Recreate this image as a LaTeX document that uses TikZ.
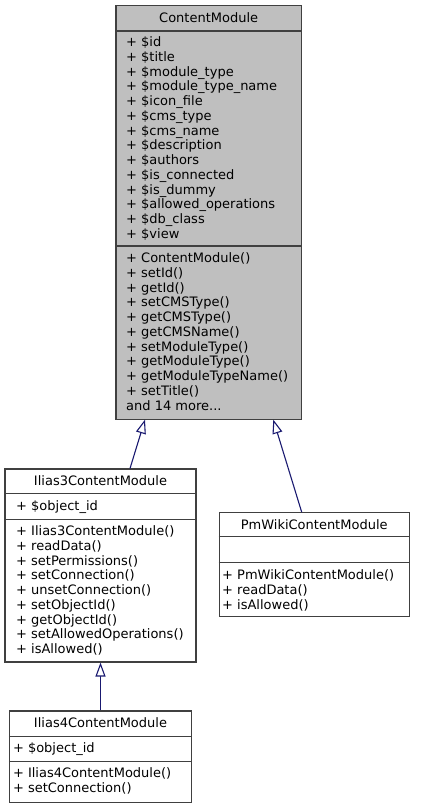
\documentclass[tikz,border=0pt]{standalone}
\usepackage{fontspec}
\setmainfont{DejaVu Sans}
\usetikzlibrary{arrows.meta}
\definecolor{edgeblue}{HTML}{191970}
\definecolor{boxline}{HTML}{404040}
\definecolor{boxgray}{HTML}{BFBFBF}
\tikzset{
  cls/.style={draw=boxline, line width=1.1pt, rectangle, inner sep=0pt},
  mem/.style={anchor=base west, inner sep=0pt, font=\fontsize{13}{14.75}\selectfont},
  ttl/.style={anchor=base, inner sep=0pt, font=\fontsize{13}{14.75}\selectfont},
  sep/.style={draw=boxline, line width=1.1pt},
  inh/.style={draw=edgeblue, line width=1.1pt, -{Triangle[open, length=14pt, width=10pt, fill=white]}}
}
\newcommand\memberlines[4]{%
  \foreach \t [count=\i from 0] in {#4} {\node[mem] (#1-\i) at (#2, #3+14.75*\i) {\t};}%
}
\begin{document}
\begin{tikzpicture}[x=1pt,y=-1pt]
\useasboundingbox (0,0) rectangle (421,808);
% ContentModule
\node[cls, fill=boxgray, minimum width=185.5, minimum height=413.5] (cm) at (208.7,212.3) {};
\draw[sep] (cm.west |- 0,31) -- (cm.east |- 0,31);
\draw[sep] (cm.west |- 0,246) -- (cm.east |- 0,246);
\node[ttl] (cm-title) at (208.7,23) {ContentModule};
\memberlines{cma}{126}{46.5}{+ \$id,+ \$title,+ \$module\_type,+ \$module\_type\_name,+ \$icon\_file,+ \$cms\_type,+ \$cms\_name,+ \$description,+ \$authors,+ \$is\_connected,+ \$is\_dummy,+ \$allowed\_operations,+ \$db\_class,+ \$view}
\memberlines{cmm}{126}{262.5}{+ ContentModule(),+ setId(),+ getId(),+ setCMSType(),+ getCMSType(),+ getCMSName(),+ setModuleType(),+ getModuleType(),+ getModuleTypeName(),+ setTitle(),{and 14 more.{}.{}.}}
% Ilias3ContentModule
\node[cls, fill=white, minimum width=191, minimum height=193] (i3) at (100.5,565.5) {};
\draw[sep] (i3.west |- 0,493.7) -- (i3.east |- 0,493.7);
\draw[sep] (i3.west |- 0,519.3) -- (i3.east |- 0,519.3);
\node[ttl] (i3-title) at (100.5,485.5) {Ilias3ContentModule};
\memberlines{i3a}{16}{510}{+ \$object\_id}
\memberlines{i3m}{16}{535.5}{+ Ilias3ContentModule(),+ readData(),+ setPermissions(),+ setConnection(),+ unsetConnection(),+ setObjectId(),+ getObjectId(),+ setAllowedOperations(),+ isAllowed()}
% PmWikiContentModule
\node[cls, fill=white, minimum width=190, minimum height=104] (pw) at (314.2,564.7) {};
\draw[sep] (pw.west |- 0,536.7) -- (pw.east |- 0,536.7);
\draw[sep] (pw.west |- 0,562.7) -- (pw.east |- 0,562.7);
\node[ttl] (pw-title) at (314.2,529.5) {PmWikiContentModule};
\memberlines{pwm}{222}{579.5}{+ PmWikiContentModule(),+ readData(),+ isAllowed()}
% Ilias4ContentModule
\node[cls, fill=white, minimum width=182.4, minimum height=91.3] (i4) at (100.5,756.6) {};
\draw[sep] (i4.west |- 0,736.7) -- (i4.east |- 0,736.7);
\draw[sep] (i4.west |- 0,761.7) -- (i4.east |- 0,761.7);
\node[ttl] (i4-title) at (100.5,727.8) {Ilias4ContentModule};
\memberlines{i4a}{12.8}{752.8}{+ \$object\_id}
\memberlines{i4m}{12.8}{777.8}{+ Ilias4ContentModule(),+ setConnection()}
% inheritance
\draw[inh] (i3.north -| 130,0) -- (cm.south -| 145,0);
\draw[inh] (pw.north -| 301.7,0) -- (cm.south -| 273.3,0);
\draw[inh] (i4.north) -- (i3.south);
\end{tikzpicture}
\end{document}
